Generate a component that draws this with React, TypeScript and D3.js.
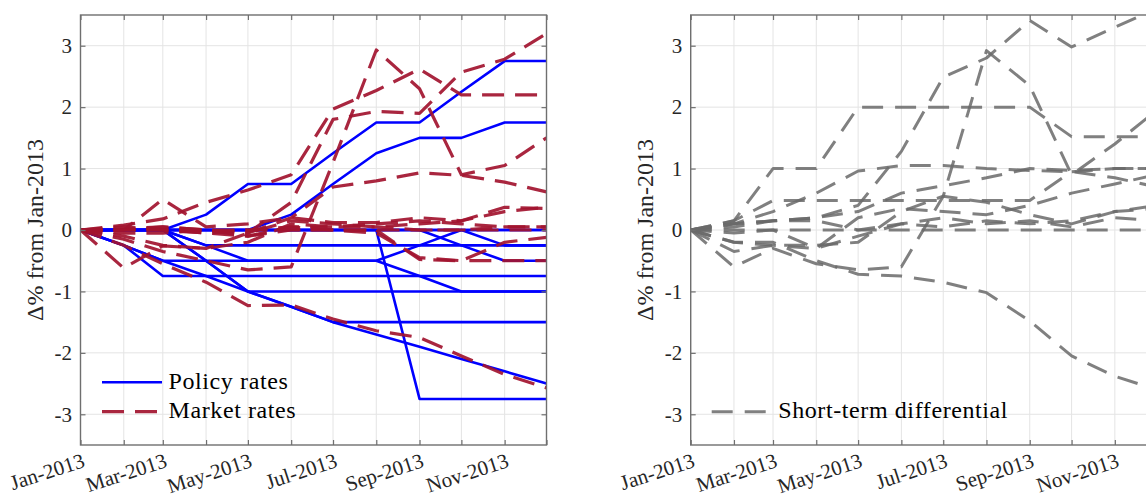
import React, { useEffect, useRef } from 'react';
import * as d3 from 'd3';

// monthly observations, Jan-2013 .. Dec-2013
const months = ['2013-01', '2013-02', '2013-03', '2013-04', '2013-05', '2013-06',
    '2013-07', '2013-08', '2013-09', '2013-10', '2013-11', '2013-12'];
const yTicks = [-3, -2, -1, 0, 1, 2, 3];

// change in policy rates (pp), one row per country
const policyRates = [
    [0, 0, 0, 0.25, 0.75, 0.75, 1.25, 1.75, 1.75, 2.25, 2.75, 2.75],
    [0, 0, 0, 0, 0, 0.25, 0.75, 1.25, 1.5, 1.5, 1.75, 1.75],
    [0, 0, 0, 0, 0, 0, 0, 0, -2.75, -2.75, -2.75, -2.75],
    [0, -0.25, -0.5, -0.75, -1.0, -1.25, -1.5, -1.5, -1.5, -1.5, -1.5, -1.5],
    [0, 0, 0, -0.5, -1.0, -1.25, -1.5, -1.7, -1.9, -2.1, -2.3, -2.5],
    [0, 0, 0, -0.5, -1.0, -1.0, -1.0, -1.0, -1.0, -1.0, -1.0, -1.0],
    [0, -0.25, -0.75, -0.75, -0.75, -0.75, -0.75, -0.75, -0.75, -0.75, -0.75, -0.75],
    [0, -0.25, -0.5, -0.5, -0.5, -0.5, -0.5, -0.5, -0.25, 0, 0, 0],
    [0, 0, 0, -0.25, -0.25, -0.25, -0.25, -0.25, -0.25, -0.25, -0.25, -0.25],
    [0, 0, 0, -0.25, -0.5, -0.5, -0.5, -0.5, -0.75, -1.0, -1.0, -1.0],
    [0, 0, 0, 0, 0, 0, 0, 0, 0, -0.25, -0.5, -0.5],
    [0, 0, 0, 0, 0, 0, 0, 0, 0, 0, -0.25, -0.25],
    [0, 0, 0, 0, 0, 0, 0, 0, 0, 0, 0, 0],
];

// change in market rates (pp)
const marketRates = [
    [0, -0.15, -0.35, -0.5, -0.65, -0.6, 1.1, 2.93, 2.3, 0.9, 1.05, 1.5],
    [0, -0.25, -0.55, -0.85, -1.23, -1.22, -1.45, -1.64, -1.75, -2.05, -2.35, -2.57],
    [0, -0.62, -0.26, -0.3, -0.05, 0.15, 0.1, 0.05, 0.1, 0.15, 0.3, 0.37],
    [0, 0.08, 0.18, 0.45, 0.65, 0.9, 1.97, 2.27, 2.62, 2.2, 2.2, 2.2],
    [0, 0, 0.05, 0, -0.05, 0.45, 1.8, 1.93, 1.9, 2.57, 2.78, 3.2],
    [0, 0.02, 0.05, 0, -0.05, 0.2, 0.7, 0.8, 0.93, 0.89, 0.78, 0.62],
    [0, 0, 0.5, 0.05, 0.1, 0.2, 0.12, 0.12, 0.2, 0.15, 0.37, 0.35],
    [0, 0.05, 0, -0.05, -0.1, 0.05, 0.05, 0.1, 0.15, 0.1, 0.05, 0.05],
    [0, -0.05, -0.05, 0, -0.1, 0, 0, 0, -0.48, -0.5, -0.2, -0.12],
    [0, 0, 0, -0.05, 0, 0.05, 0, -0.05, -0.45, -0.5, -0.5, -0.5],
    [0, -0.1, -0.25, -0.3, -0.2, 0.1, 0.05, 0.05, 0, 0, 0.05, 0.05],
    [0, 0, 0, 0, 0, 0, 0, 0, 0, 0, 0, 0],
];

// short-term differential (pp)
const differentials = [
    [0, 0.15, 1.0, 1.0, 2.0, 2.0, 2.0, 2.0, 2.0, 1.52, 1.52, 1.52],
    [0, 0.05, 0.15, 0.2, 0.4, 1.28, 2.49, 2.8, 3.41, 2.98, 3.3, 3.6],
    [0, -0.6, -0.3, -0.55, -0.65, -0.6, 0.55, 2.92, 2.35, 0.9, 1.4, 1.95],
    [0, -0.2, -0.2, -0.5, -0.72, -0.75, -0.85, -1.02, -1.48, -2.05, -2.38, -2.6],
    [0, 0.1, 0.3, 0.6, 0.96, 1.05, 1.05, 1.0, 0.97, 0.95, 0.85, 0.7],
    [0, 0.15, 0.48, 0.48, 0.48, 0.48, 0.48, 0.48, 0.48, 0.95, 1.0, 1.0],
    [0, 0.1, 0.15, 0.2, 0.3, 0.6, 0.72, 0.85, 1.0, 0.97, 1.0, 1.0],
    [0, -0.2, -0.25, -0.3, -0.1, 0.1, 0.05, 0.15, 0.1, 0.15, 0.3, 0.35],
    [0, -0.35, -0.25, -0.25, -0.2, 0.3, 0.55, 0.45, 0.25, 0.1, 0.3, 0.4],
    [0, 0.1, 0.15, 0.15, 0, 0.1, 0.2, 0.1, 0.15, 0.05, 0.2, 0.15],
    [0, -0.05, 0, -0.3, 0.2, 0.35, 0.3, 0.25, 0.4, 0.6, 0.75, 0.9],
    [0, 0, 0, 0, 0, 0, 0, 0, 0, 0, 0, 0],
];

const leftLegend = ['Policy rates', 'Market rates'];
const rightLegend = ['Short-term differential'];
const yLabel = '\u0394% from Jan-2013';

const FONT = "'Liberation Serif', 'DejaVu Serif', 'Times New Roman', serif";

function App() {
    const svgRef = useRef(null);

    useEffect(() => {
        const svg = d3.select(svgRef.current);
        svg.selectAll('*').remove();

        const top = 15;
        const bottom = 445;
        const panelW = 466;
        const dates = months.map(d3.timeParse('%Y-%m'));
        const fmt = d3.timeFormat('%b-%Y');
        const y = d3.scaleLinear().domain([-3.5, 3.5]).range([bottom, top]);

        const blue = { color: '#0000ff', dash: null, width: 2.6, opacity: 1 };
        const red = { color: '#a2142f', dash: '22,11', width: 3.2, opacity: 0.92 };
        const gray = { color: '#6a6a6a', dash: '21,12', width: 3, opacity: 0.85 };

        const panels = [
            {
                left: 80.5,
                groups: [{ data: policyRates, style: blue }, { data: marketRates, style: red }],
                legend: [{ label: leftLegend[0], style: blue }, { label: leftLegend[1], style: red }],
                legendX: 102, legendY: 382.3,
            },
            {
                left: 690.7,
                groups: [{ data: differentials, style: gray }],
                legend: [{ label: rightLegend[0], style: gray }],
                legendX: 711.7, legendY: 411.7,
            },
        ];

        const defs = svg.append('defs');

        panels.forEach((p, pi) => {
            const x = d3.scaleTime().domain([dates[0], dates[dates.length - 1]])
                .range([p.left, p.left + panelW]);
            const g = svg.append('g');

            defs.append('clipPath').attr('id', `clip${pi}`)
                .append('rect')
                .attr('x', p.left).attr('y', top)
                .attr('width', panelW).attr('height', bottom - top);

            // grid
            g.append('g').selectAll('line').data(dates).join('line')
                .attr('x1', d => x(d)).attr('x2', d => x(d))
                .attr('y1', top).attr('y2', bottom)
                .attr('stroke', '#e4e4e4').attr('stroke-width', 1);
            g.append('g').selectAll('line').data(yTicks).join('line')
                .attr('x1', p.left).attr('x2', p.left + panelW)
                .attr('y1', d => y(d)).attr('y2', d => y(d))
                .attr('stroke', '#e4e4e4').attr('stroke-width', 1);

            // series
            const line = d3.line<number>().x((d, i) => x(dates[i])).y(d => y(d));
            const plot = g.append('g').attr('clip-path', `url(#clip${pi})`);
            p.groups.forEach(grp => {
                plot.append('g').selectAll('path').data(grp.data).join('path')
                    .attr('d', d => line(d))
                    .attr('fill', 'none')
                    .attr('stroke', grp.style.color)
                    .attr('stroke-opacity', grp.style.opacity)
                    .attr('stroke-width', grp.style.width)
                    .attr('stroke-dasharray', grp.style.dash)
                    .attr('stroke-linejoin', 'round');
            });

            // axes
            const styleAxis = (sel) => {
                sel.attr('font-family', FONT).attr('font-size', 21);
                sel.select('.domain').remove();
                sel.selectAll('line').attr('stroke', '#6f6f6f').attr('stroke-width', 1.2);
                sel.selectAll('text').attr('fill', '#262626');
            };

            const xb = g.append('g').attr('transform', `translate(0,${bottom})`)
                .call(d3.axisBottom(x).tickValues(dates).tickSizeInner(-5).tickSizeOuter(0)
                    .tickFormat((d, i) => (i % 2 === 0 ? fmt(d) : '')));
            styleAxis(xb);
            xb.selectAll('text')
                .attr('x', -2).attr('y', 22)
                .attr('dy', null)
                .attr('text-anchor', 'end')
                .attr('transform', 'rotate(-18)');

            const xt = g.append('g').attr('transform', `translate(0,${top})`)
                .call(d3.axisTop(x).tickValues(dates).tickSizeInner(-5).tickSizeOuter(0).tickFormat(() => ''));
            styleAxis(xt);

            const yl = g.append('g').attr('transform', `translate(${p.left},0)`)
                .call(d3.axisLeft(y).tickValues(yTicks).tickSizeInner(-5).tickSizeOuter(0)
                    .tickPadding(8.5).tickFormat(d => String(d)));
            styleAxis(yl);

            const yr = g.append('g').attr('transform', `translate(${p.left + panelW},0)`)
                .call(d3.axisRight(y).tickValues(yTicks).tickSizeInner(-5).tickSizeOuter(0).tickFormat(() => ''));
            styleAxis(yr);

            // box
            g.append('rect')
                .attr('x', p.left).attr('y', top)
                .attr('width', panelW).attr('height', bottom - top)
                .attr('fill', 'none').attr('stroke', '#6f6f6f').attr('stroke-width', 1.4);

            // y label
            g.append('text')
                .attr('transform', `translate(${p.left - 37.5},${(top + bottom) / 2}) rotate(-90)`)
                .attr('text-anchor', 'middle')
                .attr('fill', '#262626')
                .attr('font-family', FONT).attr('font-size', 24)
                .text(yLabel);

            // legend
            p.legend.forEach((item, li) => {
                const ly = p.legendY + li * 29.4;
                g.append('line')
                    .attr('x1', p.legendX).attr('x2', p.legendX + 60)
                    .attr('y1', ly).attr('y2', ly)
                    .attr('stroke', item.style.color)
                    .attr('stroke-opacity', item.style.opacity)
                    .attr('stroke-width', item.style.width)
                    .attr('stroke-dasharray', item.style.dash);
                g.append('text')
                    .attr('x', p.legendX + 66.5).attr('y', ly + 6.2)
                    .attr('fill', '#000')
                    .attr('font-family', FONT).attr('font-size', 24)
                    .attr('letter-spacing', 0.6)
                    .text(item.label);
            });
        });
    }, []);

    return (
        <svg
            ref={svgRef}
            width={1146}
            height={497}
            style={{ position: 'absolute', left: 0, top: 0, background: '#fff' }}
        />
    );
}

export default App;
